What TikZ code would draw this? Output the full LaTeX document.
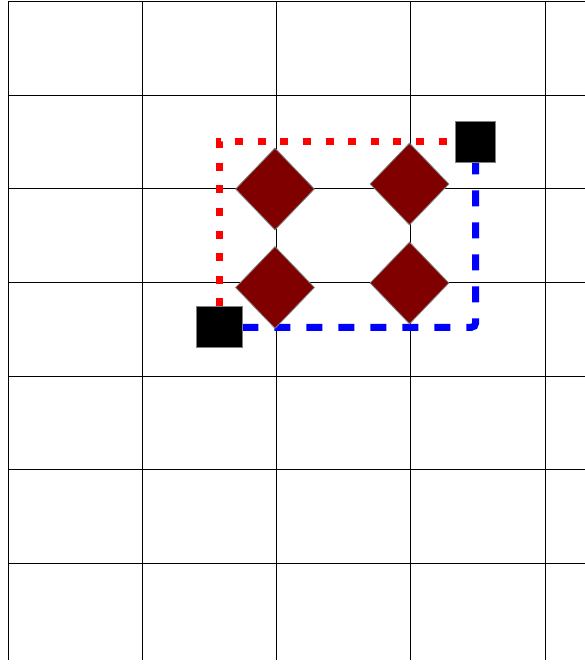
\documentclass[tikz,border=0pt]{standalone}
\usetikzlibrary{shapes.geometric}
\definecolor{gemred}{RGB}{128,0,0}
\begin{document}
\begin{tikzpicture}[x=1pt,y=-1pt,
  gridline/.style={black,line width=0.9pt},
  gem/.style={diamond,draw=gray,fill=gemred,line width=0.8pt,inner sep=0pt,minimum width=79pt,minimum height=82pt},
  blockbox/.style={draw=gray,fill=black,line width=0.9pt,inner sep=0pt},
  reddot/.style={red,line width=7pt,dash pattern=on 8pt off 14.6pt},
  bluedash/.style={blue,line width=7pt,dash pattern=on 16pt off 16pt,rounded corners=4pt}]
\useasboundingbox (0,0) rectangle (585,665);
\fill[white] (0,0) rectangle (585,665);
% grid
\foreach \x in {8,142.25,276.5,410.75,545}
  \draw[gridline] (\x,1) -- (\x,660);
\foreach \y in {1,95,188.5,282,376,469.5,563}
  \draw[gridline] (8,\y) -- (585,\y);
% end blocks
\node[blockbox,minimum width=40pt,minimum height=41pt] (tr) at (475.5,141.7) {};
\node[blockbox,minimum width=46pt,minimum height=41pt] (bl) at (219,327.3) {};
% connectors
\draw[reddot] (bl.north) |- (tr.west);
\draw[bluedash] (bl.east) -| (tr.south);
% redraw blocks on top
\node[blockbox,minimum width=40pt,minimum height=41pt] at (tr) {};
\node[blockbox,minimum width=46pt,minimum height=41pt] at (bl) {};
% diamonds
\node[gem] (d1) at (275,189) {};
\node[gem] (d2) at (409.5,184) {};
\node[gem] (d3) at (275,287.5) {};
\node[gem] (d4) at (409.5,283) {};
\end{tikzpicture}
\end{document}
